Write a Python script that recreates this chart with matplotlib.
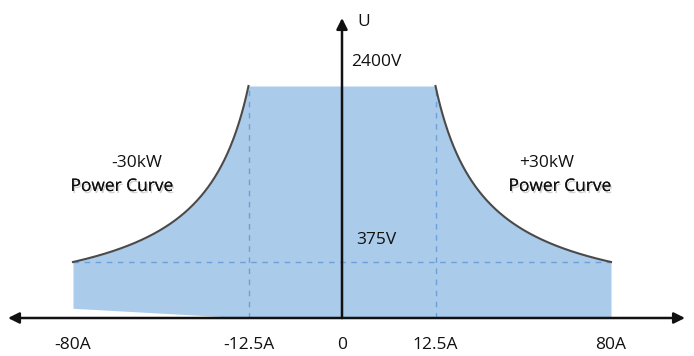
import numpy as np
import matplotlib.pyplot as plt
from matplotlib import patheffects

plt.rcParams['font.family'] = ['Open Sans', 'DejaVu Sans']

# schematic data (not to scale in the original, so piecewise axes below)
current_ticks = [-80, -12.5, 0, 12.5, 80]
current_labels = ['-80A', '-12.5A', '0', '12.5A', '80A']
power_kw = 30
v_max = 2400
v_min = 375
i_knee = 12.5
i_max = 80
# left side lower edge of the shaded area (A, V)
left_floor_i = [-80, -12.5]
left_floor_v = [65, 0]

fill_color = '#abcbea'
dash_color = '#6d9fd9'
curve_color = '#4a4a4a'
text_color = '#111111'


def x_fwd(i):
    i = np.asarray(i, dtype=float)
    a = np.abs(i)
    u = np.where(a <= i_knee, a / i_knee * 93.5, 93.5 + (a - i_knee) / (i_max - i_knee) * 175.5)
    return np.sign(i) * u


def x_inv(u):
    u = np.asarray(u, dtype=float)
    a = np.abs(u)
    i = np.where(a <= 93.5, a / 93.5 * i_knee, i_knee + (a - 93.5) / 175.5 * (i_max - i_knee))
    return np.sign(u) * i


def y_fwd(v):
    v = np.asarray(v, dtype=float)
    t = np.clip((v - v_min) / (v_max - v_min), 0, None)
    return np.where(v <= v_min, v / v_min * 56, 56 + 176 * np.log2(1 + t))


def y_inv(u):
    u = np.asarray(u, dtype=float)
    t = np.clip((u - 56) / 176, 0, None)
    return np.where(u <= 56, u / 56 * v_min, v_min + (v_max - v_min) * (2 ** t - 1))


fig = plt.figure(figsize=(6.94, 3.56), dpi=100)
ax = fig.add_axes([0, 38 / 356, 1, 318 / 356])
ax.set_xscale('function', functions=(x_fwd, x_inv))
ax.set_yscale('function', functions=(y_fwd, y_inv))
ax.set_xlim(float(x_inv(-342)), float(x_inv(352)))
ax.set_ylim(0, float(y_inv(318)))

# shaded operating area
i_right = np.linspace(i_knee, i_max, 300)
v_right = power_kw * 1000 / i_right
i_top = np.concatenate([-i_right[::-1], i_right])
v_top = np.concatenate([v_right[::-1], v_right])
v_bottom = np.interp(i_top, left_floor_i, left_floor_v, right=0)
ax.fill_between(i_top, v_bottom, v_top, color=fill_color, lw=0, zorder=1)

# power curves
ax.plot(i_right, v_right, color=curve_color, lw=1.5, zorder=3)
ax.plot(-i_right, v_right, color=curve_color, lw=1.5, zorder=3)

# dashed guides
ax.plot([-i_max, i_max], [v_min, v_min], color=dash_color, lw=1.0, ls=(0, (4, 4)), zorder=2)
for x in (-i_knee, i_knee):
    ax.plot([x, x], [0, v_max], color=dash_color, lw=1.0, ls=(0, (4, 4)), zorder=2)

# axes arrows
arrow = dict(arrowstyle='-|>,head_length=0.5,head_width=0.25', color='#111111', lw=1.8,
             mutation_scale=13, shrinkA=0, shrinkB=0)
ax.annotate('', xy=(685 / 694, 0), xytext=(342 / 694, 0), xycoords='axes fraction',
            arrowprops=arrow, annotation_clip=False)
ax.annotate('', xy=(8 / 694, 0), xytext=(342 / 694, 0), xycoords='axes fraction',
            arrowprops=arrow, annotation_clip=False)
ax.annotate('', xy=(0, 300 / 318), xytext=(0, 0), xycoords=('data', 'axes fraction'),
            arrowprops=arrow, annotation_clip=False, zorder=4)

for s in ax.spines.values():
    s.set_visible(False)
ax.set_yticks([])
ax.set_xticks(current_ticks, current_labels)
ax.tick_params(axis='x', length=0, pad=14, labelsize=12.5, labelcolor=text_color)

ax.annotate('U', xy=(0, 300 / 318), xycoords=('data', 'axes fraction'), xytext=(15, -4),
            textcoords='offset pixels', fontsize=12.5, ha='left', va='center', color=text_color)
ax.annotate(f'{v_max}V', xy=(0, v_max), xytext=(9, 24), textcoords='offset pixels',
            fontsize=12.5, ha='left', va='center', color=text_color)
ax.annotate(f'{v_min}V', xy=(0, v_min), xytext=(14, 22), textcoords='offset pixels',
            fontsize=12.5, ha='left', va='center', color=text_color)

shadow = [patheffects.withSimplePatchShadow(offset=(1, -1.5), shadow_rgbFace='#999999', alpha=0.45),
          patheffects.Normal()]
ax.text(137 / 694, (318 - 163) / 318, f'-{power_kw}kW', transform=ax.transAxes,
        fontsize=12.5, ha='center', va='center', color=text_color)
ax.text(122 / 694, (318 - 187) / 318, 'Power Curve', transform=ax.transAxes,
        fontsize=12.5, ha='center', va='center', color=text_color, path_effects=shadow)
ax.text(547 / 694, (318 - 163) / 318, f'+{power_kw}kW', transform=ax.transAxes,
        fontsize=12.5, ha='center', va='center', color=text_color)
ax.text(560 / 694, (318 - 187) / 318, 'Power Curve', transform=ax.transAxes,
        fontsize=12.5, ha='center', va='center', color=text_color, path_effects=shadow)

fig.savefig('out.png', dpi=100)
